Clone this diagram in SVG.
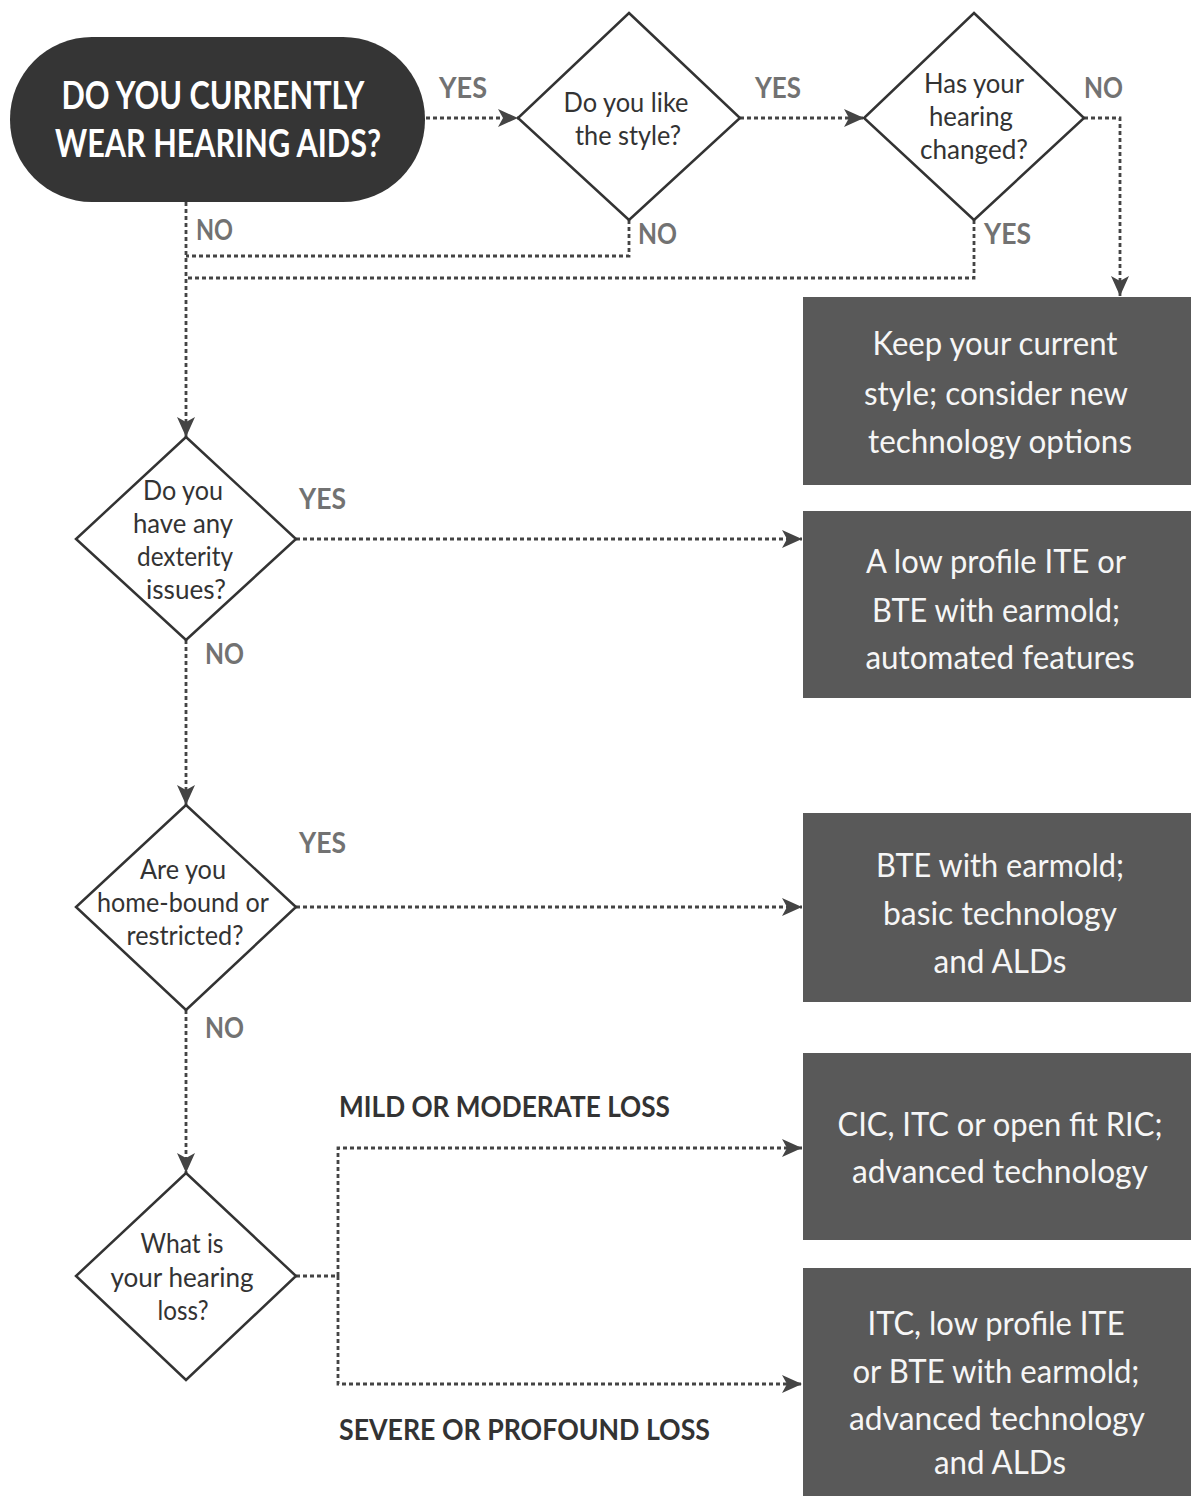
<svg xmlns="http://www.w3.org/2000/svg" width="1191" height="1496" viewBox="0 0 1191 1496">
  <style>
    .bg { fill: #ffffff; }
    .start { fill: #353535; }
    .title { font-family: Lato, "Open Sans", "Liberation Sans", sans-serif; font-weight: 700; font-size: 38px; fill: #ffffff; text-anchor: middle; }
    .diamond { fill: #ffffff; stroke: #333333; stroke-width: 2.5; }
    .q { font-family: Lato, "Open Sans", "Liberation Sans", sans-serif; font-size: 26px; fill: #333333; text-anchor: middle; }
    .result { fill: #595959; }
    .r { font-family: Lato, "Open Sans", "Liberation Sans", sans-serif; font-size: 32px; fill: #f6f6f6; text-anchor: middle; }
    .lbl { font-family: Lato, "Open Sans", "Liberation Sans", sans-serif; font-weight: 700; font-size: 29px; fill: #727272; }
    .lbl2 { font-family: Lato, "Open Sans", "Liberation Sans", sans-serif; font-weight: 700; font-size: 28px; fill: #333333; }
    .conn { fill: none; stroke: #444444; stroke-width: 2.8; stroke-dasharray: 4 3; }
    .arrow { marker-end: url(#head); }
  </style>
  <defs>
    <!-- notched arrowhead, drawn in user units so it keeps its size -->
    <marker id="head" markerUnits="userSpaceOnUse" markerWidth="22" markerHeight="20" refX="20" refY="9" orient="auto" viewBox="0 0 22 20">
      <path d="M0,0 L20,9 L0,18 L5,9 Z" fill="#444444"/>
    </marker>
  </defs>

  <rect class="bg" x="0" y="0" width="1191" height="1496"/>

  <!-- connectors -->
  <g id="connectors">
    <path class="conn arrow" d="M426,118 H518"/>
    <path class="conn arrow" d="M740,118 H864"/>
    <path class="conn arrow" d="M1084,118 H1120 V296"/>
    <path class="conn arrow" d="M186,202 V437"/>
    <path class="conn" d="M629,220 V256 H186"/>
    <path class="conn" d="M974,220 V278 H186"/>
    <path class="conn arrow" d="M296,539 H802"/>
    <path class="conn arrow" d="M186,640 V805"/>
    <path class="conn arrow" d="M296,907 H802"/>
    <path class="conn arrow" d="M186,1010 V1173"/>
    <path class="conn arrow" d="M296,1276 H338 V1148 H802"/>
    <path class="conn arrow" d="M338,1276 V1384 H802"/>

    <text class="lbl" x="439" y="98" textLength="48" lengthAdjust="spacingAndGlyphs">YES</text>
    <text class="lbl" x="755" y="98" textLength="46" lengthAdjust="spacingAndGlyphs">YES</text>
    <text class="lbl" x="1084" y="98" textLength="39" lengthAdjust="spacingAndGlyphs">NO</text>
    <text class="lbl" x="196" y="240" textLength="37" lengthAdjust="spacingAndGlyphs">NO</text>
    <text class="lbl" x="638" y="244" textLength="39" lengthAdjust="spacingAndGlyphs">NO</text>
    <text class="lbl" x="984" y="244" textLength="47" lengthAdjust="spacingAndGlyphs">YES</text>
    <text class="lbl" x="299" y="509" textLength="47" lengthAdjust="spacingAndGlyphs">YES</text>
    <text class="lbl" x="205" y="664" textLength="39" lengthAdjust="spacingAndGlyphs">NO</text>
    <text class="lbl" x="299" y="853" textLength="47" lengthAdjust="spacingAndGlyphs">YES</text>
    <text class="lbl" x="205" y="1038" textLength="39" lengthAdjust="spacingAndGlyphs">NO</text>
    <text class="lbl2" x="339" y="1117" textLength="331" lengthAdjust="spacingAndGlyphs">MILD OR MODERATE LOSS</text>
    <text class="lbl2" x="339" y="1440" textLength="371" lengthAdjust="spacingAndGlyphs">SEVERE OR PROFOUND LOSS</text>
  </g>

  <!-- start question -->
  <g id="start">
    <rect class="start" x="10" y="37" width="415" height="165" rx="82" ry="82"/>
    <text class="title" x="213" y="109" textLength="303" lengthAdjust="spacingAndGlyphs">DO YOU CURRENTLY</text>
    <text class="title" x="218" y="157" textLength="326" lengthAdjust="spacingAndGlyphs">WEAR HEARING AIDS?</text>
  </g>

  <!-- decisions -->
  <g id="like-style">
    <polygon class="diamond" points="629,13 740,118 629,220 518,118"/>
    <text class="q" x="626" y="112" textLength="125" lengthAdjust="spacingAndGlyphs">Do you like</text>
    <text class="q" x="628" y="145" textLength="106" lengthAdjust="spacingAndGlyphs">the style?</text>
  </g>

  <g id="hearing-changed">
    <polygon class="diamond" points="974,13 1084,118 974,220 864,118"/>
    <text class="q" x="974" y="93" textLength="100" lengthAdjust="spacingAndGlyphs">Has your</text>
    <text class="q" x="971" y="126" textLength="84" lengthAdjust="spacingAndGlyphs">hearing</text>
    <text class="q" x="974" y="159" textLength="108" lengthAdjust="spacingAndGlyphs">changed?</text>
  </g>

  <g id="dexterity">
    <polygon class="diamond" points="186,437 296,539 186,640 76,539"/>
    <text class="q" x="183" y="500" textLength="80" lengthAdjust="spacingAndGlyphs">Do you</text>
    <text class="q" x="183" y="533" textLength="100" lengthAdjust="spacingAndGlyphs">have any</text>
    <text class="q" x="185" y="566" textLength="96" lengthAdjust="spacingAndGlyphs">dexterity</text>
    <text class="q" x="186" y="599" textLength="80" lengthAdjust="spacingAndGlyphs">issues?</text>
  </g>

  <g id="home-bound">
    <polygon class="diamond" points="186,805 296,907 186,1010 76,907"/>
    <text class="q" x="183" y="879" textLength="86" lengthAdjust="spacingAndGlyphs">Are you</text>
    <text class="q" x="183" y="912" textLength="172" lengthAdjust="spacingAndGlyphs">home-bound or</text>
    <text class="q" x="185" y="945" textLength="117" lengthAdjust="spacingAndGlyphs">restricted?</text>
  </g>

  <g id="hearing-loss">
    <polygon class="diamond" points="186,1173 296,1276 186,1380 76,1276"/>
    <text class="q" x="182" y="1253" textLength="83" lengthAdjust="spacingAndGlyphs">What is</text>
    <text class="q" x="182" y="1287" textLength="143" lengthAdjust="spacingAndGlyphs">your hearing</text>
    <text class="q" x="183" y="1320" textLength="51" lengthAdjust="spacingAndGlyphs">loss?</text>
  </g>

  <!-- recommendations -->
  <g id="keep-style">
    <rect class="result" x="803" y="297" width="388" height="188"/>
    <text class="r" x="995" y="355" textLength="245" lengthAdjust="spacingAndGlyphs">Keep your current</text>
    <text class="r" x="996" y="405" textLength="264" lengthAdjust="spacingAndGlyphs">style; consider new</text>
    <text class="r" x="1000" y="453" textLength="264" lengthAdjust="spacingAndGlyphs">technology options</text>
  </g>

  <g id="low-profile">
    <rect class="result" x="803" y="511" width="388" height="187"/>
    <text class="r" x="996" y="573" textLength="260" lengthAdjust="spacingAndGlyphs">A low profile ITE or</text>
    <text class="r" x="996" y="622" textLength="248" lengthAdjust="spacingAndGlyphs">BTE with earmold;</text>
    <text class="r" x="1000" y="669" textLength="269" lengthAdjust="spacingAndGlyphs">automated features</text>
  </g>

  <g id="basic-tech">
    <rect class="result" x="803" y="813" width="388" height="189"/>
    <text class="r" x="1000" y="877" textLength="248" lengthAdjust="spacingAndGlyphs">BTE with earmold;</text>
    <text class="r" x="1000" y="925" textLength="234" lengthAdjust="spacingAndGlyphs">basic technology</text>
    <text class="r" x="1000" y="973" textLength="133" lengthAdjust="spacingAndGlyphs">and ALDs</text>
  </g>

  <g id="mild-moderate">
    <rect class="result" x="803" y="1053" width="388" height="187"/>
    <text class="r" x="1000" y="1136" textLength="325" lengthAdjust="spacingAndGlyphs">CIC, ITC or open fit RIC;</text>
    <text class="r" x="1000" y="1183" textLength="296" lengthAdjust="spacingAndGlyphs">advanced technology</text>
  </g>

  <g id="severe-profound">
    <rect class="result" x="803" y="1268" width="388" height="228"/>
    <text class="r" x="996" y="1335" textLength="257" lengthAdjust="spacingAndGlyphs">ITC, low profile ITE</text>
    <text class="r" x="996" y="1383" textLength="287" lengthAdjust="spacingAndGlyphs">or BTE with earmold;</text>
    <text class="r" x="997" y="1430" textLength="296" lengthAdjust="spacingAndGlyphs">advanced technology</text>
    <text class="r" x="1000" y="1474" textLength="132" lengthAdjust="spacingAndGlyphs">and ALDs</text>
  </g>
</svg>
